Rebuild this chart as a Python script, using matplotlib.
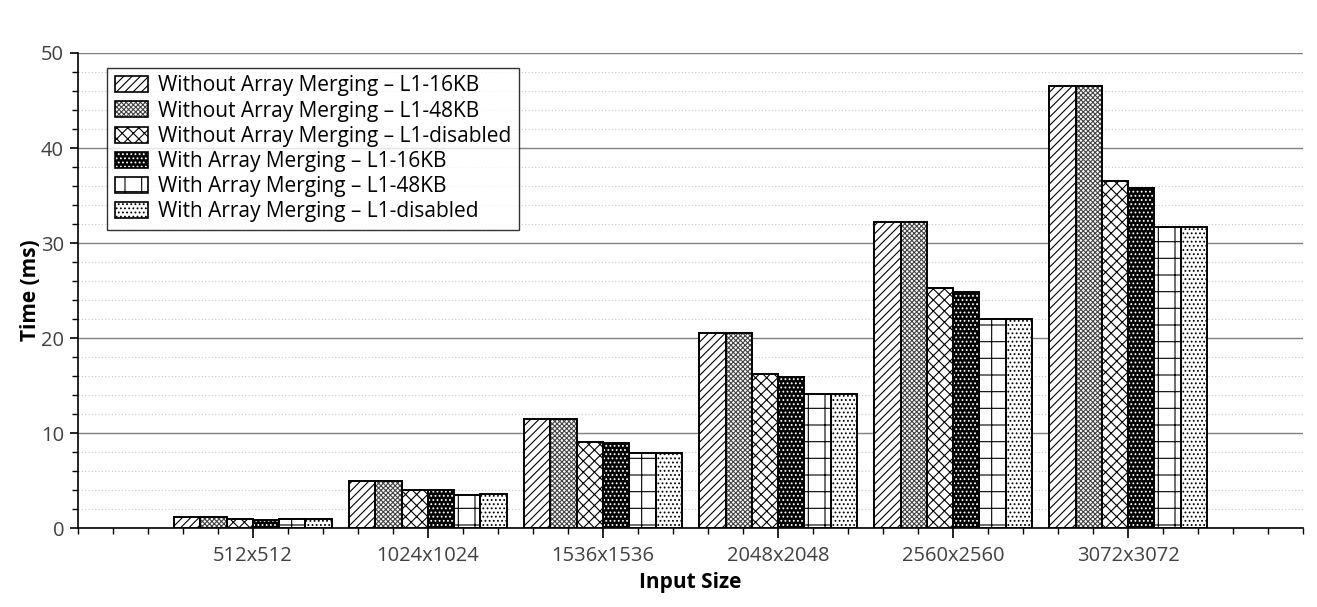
"""Execution time per input size, with and without array merging."""

import matplotlib
matplotlib.use("Agg")
import matplotlib.pyplot as plt
import numpy as np
from matplotlib.patches import Patch
from matplotlib.ticker import MultipleLocator

categories = ["512x512", "1024x1024", "1536x1536", "2048x2048", "2560x2560", "3072x3072"]
series_names = [
    "Without Array Merging – L1-16KB",
    "Without Array Merging – L1-48KB",
    "Without Array Merging – L1-disabled",
    "With Array Merging – L1-16KB",
    "With Array Merging – L1-48KB",
    "With Array Merging – L1-disabled",
]
wo_16kb = [1.15, 4.95, 11.45, 20.5, 32.2, 46.5]
wo_48kb = [1.15, 4.95, 11.45, 20.5, 32.2, 46.5]
wo_disabled = [0.95, 4.0, 9.05, 16.2, 25.3, 36.5]
w_16kb = [0.9, 4.0, 8.95, 15.9, 24.8, 35.8]
w_48kb = [0.95, 3.5, 7.9, 14.1, 22.0, 31.7]
w_disabled = [0.95, 3.6, 7.9, 14.1, 22.0, 31.7]

series = [wo_16kb, wo_48kb, wo_disabled, w_16kb, w_48kb, w_disabled]
# (facecolor, hatch colour, hatch)
styles = [
    ("white", "black", "////"),
    ("white", "#444444", "xxxxxxx"),
    ("white", "black", "xxx"),
    ("black", "white", "...."),
    ("white", "black", "+"),
    ("white", "black", "...."),
]

plt.rcParams["font.family"] = ["Open Sans", "DejaVu Sans"]
plt.rcParams["hatch.linewidth"] = 0.8

fig = plt.figure(figsize=(13.17, 6.07), dpi=100)
ax = fig.add_axes([0.0592, 0.130, 0.9302, 0.7827])

x = np.arange(len(categories))
width = 0.15
for i, (vals, (fc, hc, hatch)) in enumerate(zip(series, styles)):
    pos = x + (i - 2.5) * width
    ax.bar(pos, vals, width, color=fc, edgecolor=hc, hatch=hatch, linewidth=0, zorder=3)
    ax.bar(pos, vals, width, fill=False, edgecolor="black", linewidth=1.4, zorder=4)

ax.set_xlim(-1, 6)
ax.set_ylim(0, 50)
ax.set_xticks(x)
ax.set_xticklabels(categories)
ax.xaxis.set_minor_locator(MultipleLocator(0.2))
ax.yaxis.set_major_locator(MultipleLocator(10))
ax.yaxis.set_minor_locator(MultipleLocator(2))

ax.grid(axis="y", which="major", color="#808080", linewidth=1.0, zorder=0)
ax.grid(axis="y", which="minor", color="#c8c8c8", linestyle=(0, (1, 2)), linewidth=0.8, zorder=0)
ax.set_axisbelow(True)

for side in ["top", "right"]:
    ax.spines[side].set_visible(False)
for side in ["left", "bottom"]:
    ax.spines[side].set_linewidth(1.2)

ax.tick_params(which="major", direction="out", length=6, width=1.2, labelsize=14.5, labelcolor="#404040", pad=4)
ax.tick_params(axis="x", which="major", length=7, pad=6)
ax.tick_params(which="minor", direction="out", length=4, width=1.0)

ax.set_xlabel("Input Size", fontsize=15, fontweight="bold", labelpad=4)
ax.set_ylabel("Time (ms)", fontsize=15, fontweight="bold", labelpad=0)

handles = [Patch(facecolor=fc, edgecolor=hc, hatch=h, linewidth=0) for fc, hc, h in styles]
handles = [(h, Patch(fill=False, edgecolor="black", linewidth=1.2)) for h in handles]
leg = ax.legend(handles, series_names, loc="upper left", bbox_to_anchor=(0.024, 0.968),
                fontsize=15, frameon=True, fancybox=False, edgecolor="black",
                handlelength=1.6, handleheight=0.8, labelspacing=0.2, borderpad=0.35,
                handletextpad=0.5, borderaxespad=0)
leg.get_frame().set_linewidth(1.0)
leg.set_zorder(5)

fig.savefig("out.png", dpi=100)
